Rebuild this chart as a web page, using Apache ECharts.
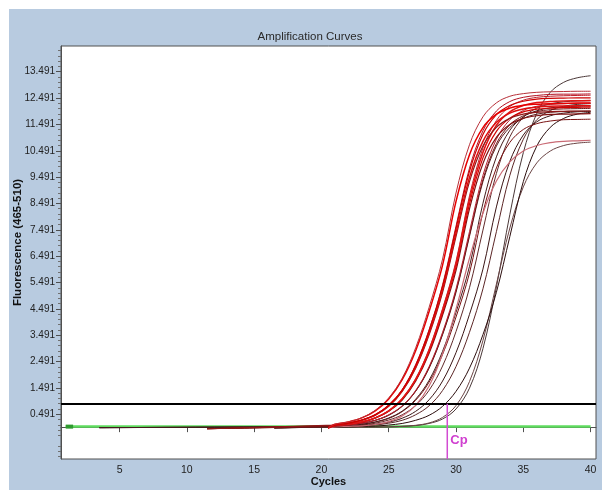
<!DOCTYPE html>
<html><head><meta charset="utf-8">
<script src="https://cdn.jsdelivr.net/npm/echarts@6/dist/echarts.min.js"></script>
<style>html,body{margin:0;padding:0;background:#fff;}#c{width:602px;height:490px;}</style>
</head><body><div id="c"></div>
<script>
// ---- data ----
const cycles = [21,22,23,24,25,26,27,28,29,30,31,32,33,34,35,36,37,38,39,40];
const xTickValues = [5,10,15,20,25,30,35,40];
const yTickValues = [0.491,1.491,2.491,3.491,4.491,5.491,6.491,7.491,8.491,9.491,10.491,11.491,12.491,13.491];
const thresholdLevel = 0.89;
const cpCycle = 29.35;
const controlCycles = [1, 40];
const controlLevel = [0.02, 0.02];

// fluorescence per curve, cycles 21..40
const D7  = [0.00,0.00,0.00,0.00,0.01,0.03,0.06,0.14,0.31,0.69,1.48,2.98,5.32,8.08,10.42,11.91,12.71,13.09,13.26,13.34];
const P2  = [0.00,0.00,0.00,0.01,0.01,0.03,0.07,0.16,0.37,0.82,1.73,3.29,5.43,7.56,9.12,10.03,10.48,10.69,10.78,10.82];
const D8  = [0.01,0.01,0.03,0.04,0.08,0.14,0.26,0.45,0.79,1.36,2.24,3.51,5.12,7.24,9.32,10.67,11.38,11.72,11.88,11.95];
const D6  = [0.01,0.03,0.05,0.08,0.15,0.26,0.47,0.81,1.39,2.30,3.60,5.25,7.42,9.56,10.93,11.67,12.02,12.18,12.25,12.28];
const D5  = [0.02,0.03,0.06,0.11,0.19,0.34,0.60,1.04,1.75,2.83,4.28,6.00,8.36,10.09,11.09,11.59,11.82,11.92,11.97,11.98];
const D4  = [0.03,0.05,0.08,0.15,0.27,0.47,0.82,1.40,2.32,3.63,5.29,7.48,9.63,11.02,11.76,12.11,12.27,12.35,12.38,12.39];
const D3  = [0.03,0.06,0.10,0.19,0.33,0.59,1.02,1.71,2.76,4.18,5.85,8.15,9.84,10.81,11.30,11.52,11.62,11.67,11.68,11.69];
const D2  = [0.03,0.06,0.11,0.20,0.35,0.61,1.06,1.78,2.88,4.36,6.10,8.50,10.26,11.27,11.78,12.01,12.12,12.16,12.18,12.19];
const D1  = [0.04,0.08,0.14,0.26,0.45,0.79,1.36,2.24,3.51,5.12,7.24,9.32,10.67,11.38,11.72,11.88,11.95,11.98,11.99,12.00];
const P1  = [0.01,0.03,0.05,0.10,0.21,0.42,0.83,1.56,2.78,4.49,6.41,8.12,9.34,10.07,10.48,10.69,10.80,10.85,10.87,10.89];
const R10 = [0.04,0.08,0.15,0.26,0.46,0.80,1.37,2.26,3.54,5.17,7.30,9.40,10.76,11.48,11.82,11.98,12.05,12.08,12.09,12.10];
const R9  = [0.05,0.08,0.15,0.26,0.47,0.81,1.39,2.30,3.60,5.25,7.42,9.56,10.93,11.67,12.02,12.18,12.25,12.28,12.29,12.30];
const R8  = [0.06,0.11,0.19,0.34,0.60,1.03,1.74,2.80,4.25,5.95,8.29,10.01,11.00,11.49,11.72,11.82,11.87,11.88,11.89,11.90];
const R12 = [0.06,0.11,0.19,0.35,0.61,1.06,1.78,2.86,4.34,6.08,8.47,10.22,11.23,11.73,11.97,12.07,12.11,12.13,12.14,12.15];
const R7  = [0.06,0.11,0.20,0.36,0.63,1.09,1.84,2.97,4.50,6.30,8.78,10.60,11.64,12.17,12.41,12.52,12.56,12.58,12.59,12.60];
const R6  = [0.06,0.11,0.20,0.35,0.62,1.08,1.81,2.92,4.43,6.20,8.64,10.43,11.46,11.97,12.21,12.32,12.36,12.38,12.39,12.40];
const R5  = [0.08,0.14,0.26,0.45,0.79,1.36,2.24,3.51,5.12,7.24,9.32,10.67,11.38,11.72,11.88,11.95,11.98,11.99,12.00,12.00];
const R11 = [0.08,0.15,0.27,0.48,0.84,1.43,2.37,3.70,5.40,7.63,9.83,11.25,12.00,12.36,12.52,12.59,12.63,12.64,12.64,12.65];
const R4  = [0.08,0.15,0.26,0.46,0.81,1.38,2.28,3.57,5.21,7.36,9.48,10.85,11.57,11.92,12.08,12.15,12.18,12.19,12.20,12.20];
const R3  = [0.08,0.15,0.27,0.47,0.83,1.41,2.34,3.66,5.34,7.54,9.71,11.11,11.86,12.21,12.37,12.45,12.48,12.49,12.50,12.50];
const R2  = [0.11,0.20,0.35,0.62,1.07,1.80,2.90,4.39,6.15,8.57,10.34,11.37,11.88,12.11,12.22,12.26,12.28,12.29,12.30,12.30];
const R1  = [0.11,0.20,0.36,0.64,1.11,1.86,3.01,4.55,6.38,8.89,10.72,11.78,12.31,12.56,12.66,12.71,12.73,12.74,12.75,12.75];

const curveValues = [D7,P2,D8,D6,D5,D4,D3,D2,D1,P1,R10,R9,R8,R12,R7,R6,R5,R11,R4,R3,R2,R1];
const curveColors = ['#4b3838','#6b4545','#2b0d0d','#5c2626','#3a1515','#612a2a','#7a1212','#451c1c','#5a1c1c','#c96a74',
                     '#701515','#b52030','#801212','#d40000','#c0202c','#e01515','#8e1818','#b31020','#dc0f0f','#cc0000','#e60000','#b83038'];
const curveWidths = [1,1,1,1,1,1,1,1,1,1.2,1,1,1.2,1.2,1,1.5,1.2,1,1.5,1.2,1.5,1];
const startCycles = [16.5,16.5,3.5,16.5,3.5,16.5,11.5,3.5,16.5,20.5,11.5,20.5,11.5,20.5,20.5,20.5,11.5,20.5,20.5,20.5,20.5,20.5];
const baseLevels  = [-0.03,-0.03,-0.02,-0.03,-0.02,-0.03,-0.06,-0.02,-0.03,-0.03,-0.06,-0.03,-0.06,-0.03,-0.03,-0.03,-0.06,-0.03,-0.03,-0.03,-0.03,-0.03];

// ---- chart ----
const FONT = "'Liberation Sans',Arial,sans-serif";
const minorTicks = [];
for (let i = 0; i < yTickValues.length + 2; i++) {
  const base = yTickValues[0] - 2 + i;
  for (let k = 1; k < 5; k++) {
    const v = +(base + k * 0.2).toFixed(3);
    if (v > -1.2 && v < 14.46) minorTicks.push(v);
  }
}

const series = [];
series.push({
  type: 'line', data: controlCycles.map((c, i) => [c, controlLevel[i]]),
  symbol: 'none', lineStyle: { color: '#5fdc5f', width: 2.5 }, z: 1, silent: true
});
series.push({
  type: 'line', data: [[controlCycles[0], controlLevel[0]], [controlCycles[0] + 0.55, controlLevel[0]]],
  symbol: 'none', lineStyle: { color: '#2f9a2f', width: 4 }, z: 1, silent: true
});
curveValues.forEach((vals, idx) => {
  const data = [[startCycles[idx], baseLevels[idx]]].concat(cycles.map((c, i) => [c, vals[i]]));
  series.push({
    type: 'line', data, symbol: 'none', smooth: 0.35, z: 2, silent: true,
    lineStyle: { color: curveColors[idx], width: curveWidths[idx] }
  });
});
series.push({
  type: 'line', data: [], symbol: 'none', z: 4,
  markLine: {
    silent: true, symbol: 'none', animation: false,
    label: { show: false },
    lineStyle: { color: '#000', width: 2, type: 'solid' },
    data: [{ yAxis: thresholdLevel }]
  }
});
series.push({
  type: 'line', z: 5, silent: true,
  data: [[cpCycle, thresholdLevel], [cpCycle, -1.209]],
  symbol: 'none', lineStyle: { color: '#d24bd2', width: 1.5 },
  markPoint: {
    silent: true, animation: false, symbol: 'circle', symbolSize: 0,
    label: { show: true, position: 'right', distance: 3, formatter: 'Cp', color: '#d040d0', fontWeight: 'bold',
             fontSize: 13, fontFamily: FONT },
    data: [{ coord: [cpCycle, -0.52] }]
  }
});

const chart = echarts.init(document.getElementById('c'), null, { renderer: 'canvas' });
chart.setOption({
  animation: false,
  backgroundColor: '#ffffff',
  graphic: [{ type: 'rect', shape: { x: 9, y: 9, width: 593, height: 481 }, style: { fill: '#b8cbe0' }, z: -10, silent: true }],
  title: {
    text: 'Amplification Curves', left: 305, top: 26, textAlign: 'center',
    textStyle: { fontSize: 11.5, fontWeight: 'normal', color: '#2a2a2a', fontFamily: FONT }
  },
  grid: { left: 61, right: 6, top: 46, bottom: 31, show: true, backgroundColor: '#fff', borderColor: '#505050', borderWidth: 1,
          containLabel: false, outerBoundsMode: 'none' },
  xAxis: {
    type: 'value', min: 0.65, max: 40.4,
    name: 'Cycles', nameLocation: 'middle', nameGap: 17, nameMoveOverlap: false,
    nameTextStyle: { fontSize: 11, fontWeight: 'bold', color: '#111', fontFamily: FONT },
    axisLine: { show: true, lineStyle: { color: '#505050' } },
    axisTick: { show: true, length: 5, customValues: xTickValues, lineStyle: { color: '#505050' } },
    axisLabel: { customValues: xTickValues, fontSize: 10.5, color: '#222', margin: 6, fontFamily: FONT },
    splitLine: { show: false }
  },
  yAxis: [{
    type: 'value', min: -1.209, max: 14.468,
    name: 'Fluorescence (465-510)', nameLocation: 'middle', nameGap: 37, nameRotate: 90, nameMoveOverlap: false,
    nameTextStyle: { fontSize: 11.5, fontWeight: 'bold', color: '#111', fontFamily: FONT, padding: [0, 0, 0, 20] },
    axisLine: { show: true, lineStyle: { color: '#505050' } },
    axisTick: { show: true, length: 5, customValues: yTickValues, lineStyle: { color: '#505050' } },
    axisLabel: { customValues: yTickValues, formatter: v => v.toFixed(3), fontSize: 10, color: '#222', margin: 6, fontFamily: FONT },
    splitLine: { show: false }
  }, {
    type: 'value', min: -1.209, max: 14.468, position: 'left',
    axisLine: { show: false },
    axisTick: { show: true, length: 3, customValues: minorTicks, lineStyle: { color: '#707070' } },
    axisLabel: { show: false }, splitLine: { show: false }
  }],
  series
});
</script></body></html>
